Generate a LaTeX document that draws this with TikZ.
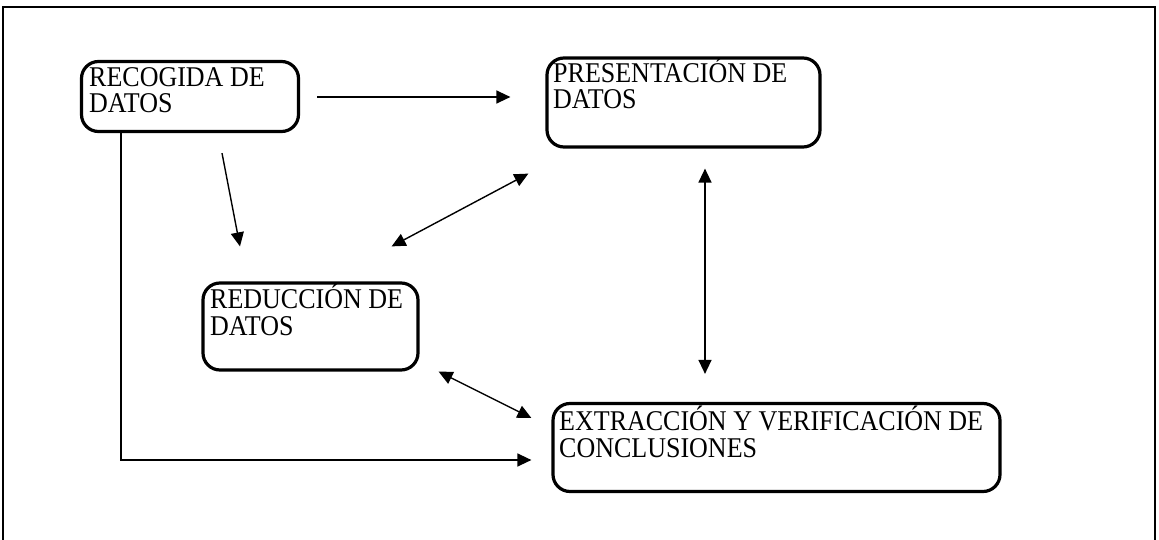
\documentclass[tikz,border=0pt]{standalone}
\usepackage{fontspec}
\setmainfont{Liberation Serif}
\usetikzlibrary{arrows.meta,calc}
\newcommand{\boxtext}[1]{\scalebox{1}[1.1]{\begin{tabular}[b]{@{}l@{}}#1\end{tabular}}}
\begin{document}
\begin{tikzpicture}[x=1pt,y=-1pt,
  box/.style={draw,line width=3.2pt,rounded corners=17pt,inner sep=0pt},
  lbl/.style={inner sep=0pt,anchor=base west,font=\fontsize{26}{22.7}\selectfont},
  conn/.style={line width=1.4pt,-{Triangle[length=14pt,width=13pt]}},
  conn2/.style={line width=1.4pt,{Triangle[length=14pt,width=13pt]}-{Triangle[length=14pt,width=13pt]}}]
\useasboundingbox (0,0) rectangle (1159,540);
\draw[line width=2pt] (3,545) -- (3,7) -- (1155,7) -- (1155,545);
% boxes
\node[box,minimum width=217pt,minimum height=70pt] (rec) at (190,96.5) {};
\node[box,minimum width=273pt,minimum height=89pt] (pres) at (683.5,102.5) {};
\node[box,minimum width=215pt,minimum height=87pt] (red) at (310.5,326.5) {};
\node[box,minimum width=447pt,minimum height=88pt] (ext) at (776.5,447.5) {};
% labels (anchor is the baseline of the last line)
\node[lbl] (recl) at (89,113) {\boxtext{RECOGIDA DE\\DATOS}};
\node[lbl] (presl) at (553,109) {\boxtext{PRESENTACIÓN DE\\DATOS}};
\node[lbl] (redl) at (210,335) {\boxtext{REDUCCIÓN DE\\DATOS}};
\node[lbl] (extl) at (559,457) {\boxtext{EXTRACCIÓN Y VERIFICACIÓN DE\\CONCLUSIONES}};
% connectors
\draw[conn] ($(rec.east)+(17,0.5)$) -- ($(pres.west)+(-35,-5.5)$);
\draw[conn] ($(rec.south)+(32,20)$) -- ($(red.north)+(-70.5,-35)$);
\draw[conn2] ($(pres.south west)+(-17,25)$) -- ($(red.north east)+(-28,-35)$);
\draw[conn2] ($(pres.south)+(21.5,20)$) -- ($(ext.north)+(-71.5,-28)$);
\draw[conn2] ($(red.south east)+(19,0)$) -- ($(ext.west)+(-20,-29.5)$);
\draw[conn] ($(rec.south west)+(41,0)$) |- ($(ext.west)+(-20,12.5)$);
\end{tikzpicture}
\end{document}
